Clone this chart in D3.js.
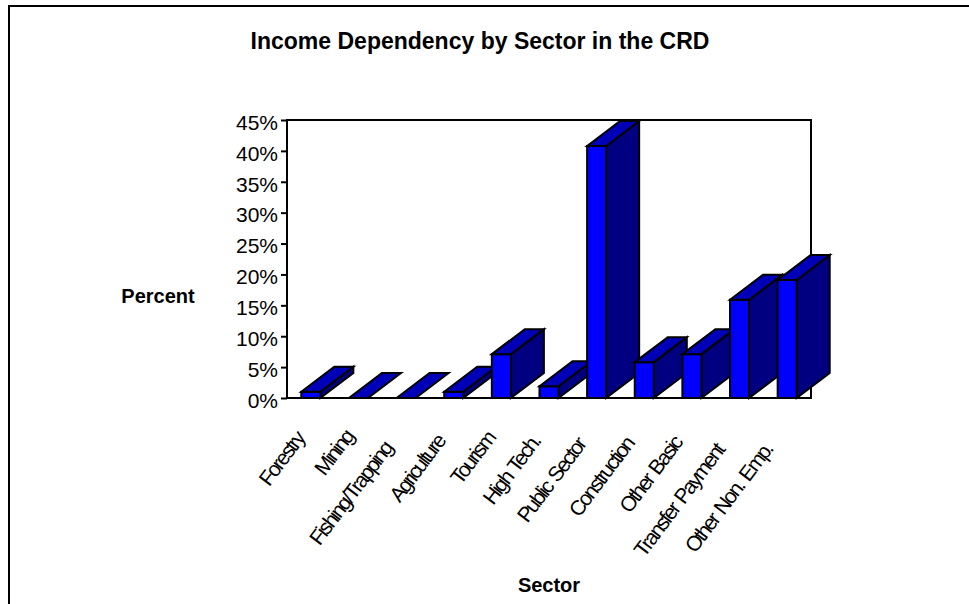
<!DOCTYPE html>
<html><head><meta charset="utf-8">
<script src="https://cdn.jsdelivr.net/npm/d3@7"></script>
<style>html,body{margin:0;padding:0;background:#fff;overflow:hidden}svg{display:block}text{font-family:"Liberation Sans",Arial,sans-serif;fill:#000}</style>
</head><body>
<svg id="c" width="969" height="604"></svg>
<script>
const categories = ["Forestry","Mining","Fishing/Trapping","Agriculture","Tourism","High Tech.","Public Sector","Construction","Other Basic","Transfer Payment","Other Non. Emp."];
const values = [1,0,0,1,7.1,1.9,40.8,5.8,7.1,15.9,19.1];
const yTicks = [0,5,10,15,20,25,30,35,40,45];
const svg = d3.select("#c");
const L=287,R=811,T=120,B=398,DX=33,DY=25;
const x = d3.scaleBand().domain(categories).range([L,R]).paddingInner(0.6).paddingOuter(0.3);
const y = d3.scaleLinear().domain([0,45]).range([B,T]);
svg.append("path").attr("d","M9,604V6H969").attr("fill","none").attr("stroke","#000").attr("stroke-width",2);
svg.append("rect").attr("x",L).attr("y",T).attr("width",R-L).attr("height",B-T).attr("fill","none").attr("stroke","#000").attr("stroke-width",2);
const yAxis = d3.axisLeft(y).tickValues(yTicks).tickFormat(d=>d+"%").tickSize(6).tickPadding(3);
const ga = svg.append("g").attr("transform",`translate(${L},0)`).call(yAxis);
ga.select(".domain").remove();
ga.selectAll(".tick line").attr("stroke","#000").attr("stroke-width",2);
ga.selectAll("text").attr("font-size",21).attr("dy","0.44em").style("font-family",'"Liberation Sans",Arial,sans-serif').attr("fill","#000");
const g = svg.selectAll(".bar").data(categories).join("g").attr("class","bar");
const st = s=>s.attr("stroke","#000").attr("stroke-width",2).attr("stroke-linejoin","miter");
categories.forEach((c,i)=>{
  const x0=x(c),x1=x0+x.bandwidth(),yt=y(values[i]);
  const bar=d3.select(g.nodes()[i]);
  if(values[i]>0){
    st(bar.append("path").attr("d",`M${x1},${B}L${x1+DX},${B-DY}V${yt-DY}L${x1},${yt}Z`).attr("fill","#000080"));
    st(bar.append("rect").attr("x",x0).attr("y",yt).attr("width",x1-x0).attr("height",B-yt).attr("fill","#0000ff"));
  }
  st(bar.append("path").attr("d",`M${x0},${yt}L${x0+DX},${yt-DY}H${x1+DX}L${x1},${yt}Z`).attr("fill","#0000b8"));
  const t=svg.append("text").attr("transform",`translate(${x0+x.bandwidth()/2-4},${B+27}) rotate(-53)`).attr("text-anchor","end").attr("dy","0.35em").attr("font-size",21).attr("letter-spacing","-2.1px").attr("word-spacing","2px").text(c);
  t.attr("dx",-0.2*t.node().getComputedTextLength());
});
svg.append("text").attr("x",480).attr("y",49).attr("text-anchor","middle").attr("font-weight","bold").attr("font-size",23).text("Income Dependency by Sector in the CRD");
svg.append("text").attr("x",158).attr("y",303).attr("text-anchor","middle").attr("font-weight","bold").attr("font-size",20).text("Percent");
svg.append("text").attr("x",549).attr("y",592).attr("text-anchor","middle").attr("font-weight","bold").attr("font-size",20).text("Sector");
</script></body></html>
